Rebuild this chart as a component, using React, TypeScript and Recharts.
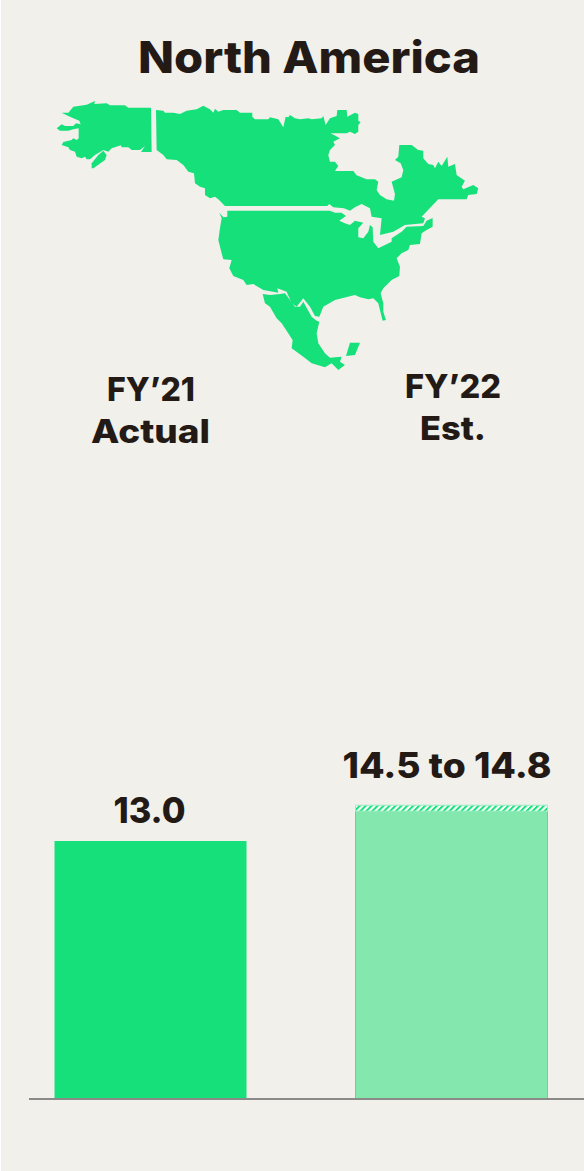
import React from 'react';
import { BarChart, Bar, Cell, XAxis, YAxis, LabelList } from 'recharts';

const categories = ['FY21', 'FY22'];
const baseValues = [13.0, 14.5];
const rangeValues = [0, 0.3];
const valueLabels = ['13.0', '14.5 to 14.8'];
const baseColors = ['#16e07a', '#84e8ae'];
const baseStrokes = ['none', '#4fe094'];

const chartData = categories.map((category, i) => ({
  category,
  base: baseValues[i],
  range: rangeValues[i],
  label: valueLabels[i],
}));

const INK = '#231a16';
const FONT = 'Inter, sans-serif';

// map outlines, traced at 3x from (40,90)
const mapShapes = [
  'M65,68 85,68 100,50 140,44 165,33 163,42 200,40 210,46 255,46 265,53 333,53 335,186 303,186 315,168 300,180 275,180 265,172 245,172 243,166 215,175 205,185 190,180 165,195 150,208 140,208 135,200 125,205 110,200 105,185 90,180 85,172 65,165 70,156 95,150 100,145 110,150 116,145 116,115 100,118 85,122 60,122 50,115 65,103 75,108 100,108 108,100 122,103 118,92 100,85 85,78Z',
  'M190,182 200,195 195,210 160,235 155,235 155,220 175,195Z',
  'M348,60 370,62 375,68 400,68 420,72 440,62 470,58 490,47 510,58 520,68 525,56 535,65 550,60 590,60 600,68 637,68 637,80 645,88 685,88 690,82 715,88 730,112 737,80 745,82 750,75 765,85 780,88 805,85 815,88 845,85 850,78 857,105 870,85 890,78 892,60 920,60 922,80 945,68 955,72 955,92 962,97 955,105 955,125 945,132 930,125 920,130 872,130 900,145 880,155 885,165 870,180 865,195 870,215 885,215 895,228 885,243 940,243 950,256 980,268 1005,268 1015,275 1010,300 1020,315 1040,328 1062,332 1065,312 1055,275 1085,262 1090,240 1082,220 1065,210 1075,200 1078,165 1115,165 1135,180 1150,182 1150,205 1165,222 1180,225 1185,235 1195,215 1205,228 1222,200 1225,230 1245,222 1250,255 1275,272 1265,290 1270,298 1300,285 1315,295 1310,312 1285,315 1280,328 1195,328 1145,380 1155,385 1150,400 1095,405 1060,425 1020,435 1025,385 995,380 990,355 965,342 945,352 930,362 912,355 880,352 868,342 862,348 555,348 535,328 525,320 510,325 495,315 495,295 480,290 465,280 462,250 445,245 430,225 410,210 380,208 370,195 350,180Z',
  'M562,362 870,362 885,368 905,368 918,378 898,392 915,400 930,405 945,392 970,398 955,415 955,442 970,445 985,425 990,405 998,412 1000,455 1015,475 1055,455 1055,445 1085,425 1100,410 1150,408 1160,392 1178,384 1178,410 1160,420 1145,430 1140,462 1110,465 1105,480 1085,490 1070,505 1080,530 1078,558 1055,570 1030,595 1022,610 1030,640 1030,665 1038,690 1028,692 1015,640 1000,625 985,628 960,622 945,615 885,630 850,650 838,680 825,678 810,650 790,625 770,650 755,640 740,605 712,595 715,608 670,600 640,582 620,585 610,570 580,558 568,535 575,510 550,508 545,490 535,450 540,415 545,385 538,368 550,382 562,380Z',
  'M668,612 690,615 720,612 735,610 750,630 765,650 780,650 790,635 815,680 830,692 838,695 830,730 835,760 855,790 870,803 905,800 900,815 915,825 895,840 875,820 855,832 815,820 790,800 755,775 758,750 725,700 710,685 690,650 675,640Z',
  'M930,758 960,758 945,795 918,798Z',
];

const labelWidths = [72, 209];

const ValueLabel = (props: any) => {
  const { x, y, width, index } = props;
  const lift = index === 0 ? 18 : 33;
  const shift = index === 0 ? -1 : -4.5;
  return (
    <text
      x={x + width / 2 + shift}
      y={y - lift}
      textAnchor="middle"
      fill={INK}
      fontFamily={FONT}
      fontSize={35}
      fontWeight={800}
      textLength={labelWidths[index]}
      lengthAdjust="spacingAndGlyphs"
    >
      {valueLabels[index]}
    </text>
  );
};

const Heading = ({ x, y, size, fit, children }: any) => (
  <text
    x={x}
    y={y}
    textAnchor="middle"
    fill={INK}
    fontFamily={FONT}
    fontSize={size}
    fontWeight={800}
    textLength={fit}
    lengthAdjust="spacingAndGlyphs"
  >
    {children}
  </text>
);

export default function App() {
  return (
    <div style={{ position: 'absolute', left: 0, top: 0, width: 584, height: 1171 }}>
      <BarChart
        width={584}
        height={1171}
        data={chartData}
        margin={{ top: 702, right: 0, bottom: 71, left: 29 }}
      >
        <defs>
          <pattern id="hatch" patternUnits="userSpaceOnUse" width="4.2" height="4.2" patternTransform="rotate(45)">
            <rect width="4.2" height="4.2" fill="#ffffff" />
            <rect width="2" height="4.2" fill="#16e07a" />
          </pattern>
        </defs>
        <rect x={1} y={0} width={583} height={1171} fill="#f1f0eb" />
        <g transform="translate(40,90) scale(0.3333)" fill="#16e07a">
          {mapShapes.map((d) => (
            <path key={d} d={d} />
          ))}
        </g>
        <Heading x={309} y={73} size={44} fit={342}>North America</Heading>
        <Heading x={151} y={401} size={33} fit={88}>FY’21</Heading>
        <Heading x={150.5} y={443} size={33} fit={119}>Actual</Heading>
        <Heading x={453} y={398} size={33} fit={96}>FY’22</Heading>
        <Heading x={453} y={440} size={33} fit={66}>Est.</Heading>
        <XAxis
          dataKey="category"
          scale="point"
          padding={{ left: 121, right: 133 }}
          tick={false}
          tickLine={false}
          height={1}
          axisLine={{ stroke: '#8a8a88', strokeWidth: 2 }}
        />
        <YAxis hide domain={[0, 20]} />
        <Bar dataKey="base" stackId="a" barSize={192} isAnimationActive={false}>
          {categories.map((c, i) => (
            <Cell key={c} fill={baseColors[i]} stroke={baseStrokes[i]} />
          ))}
          <LabelList dataKey="label" content={ValueLabel} />
        </Bar>
        <Bar dataKey="range" stackId="a" barSize={192} fill="url(#hatch)" stroke="#9cecc0" isAnimationActive={false} />
      </BarChart>
    </div>
  );
}
